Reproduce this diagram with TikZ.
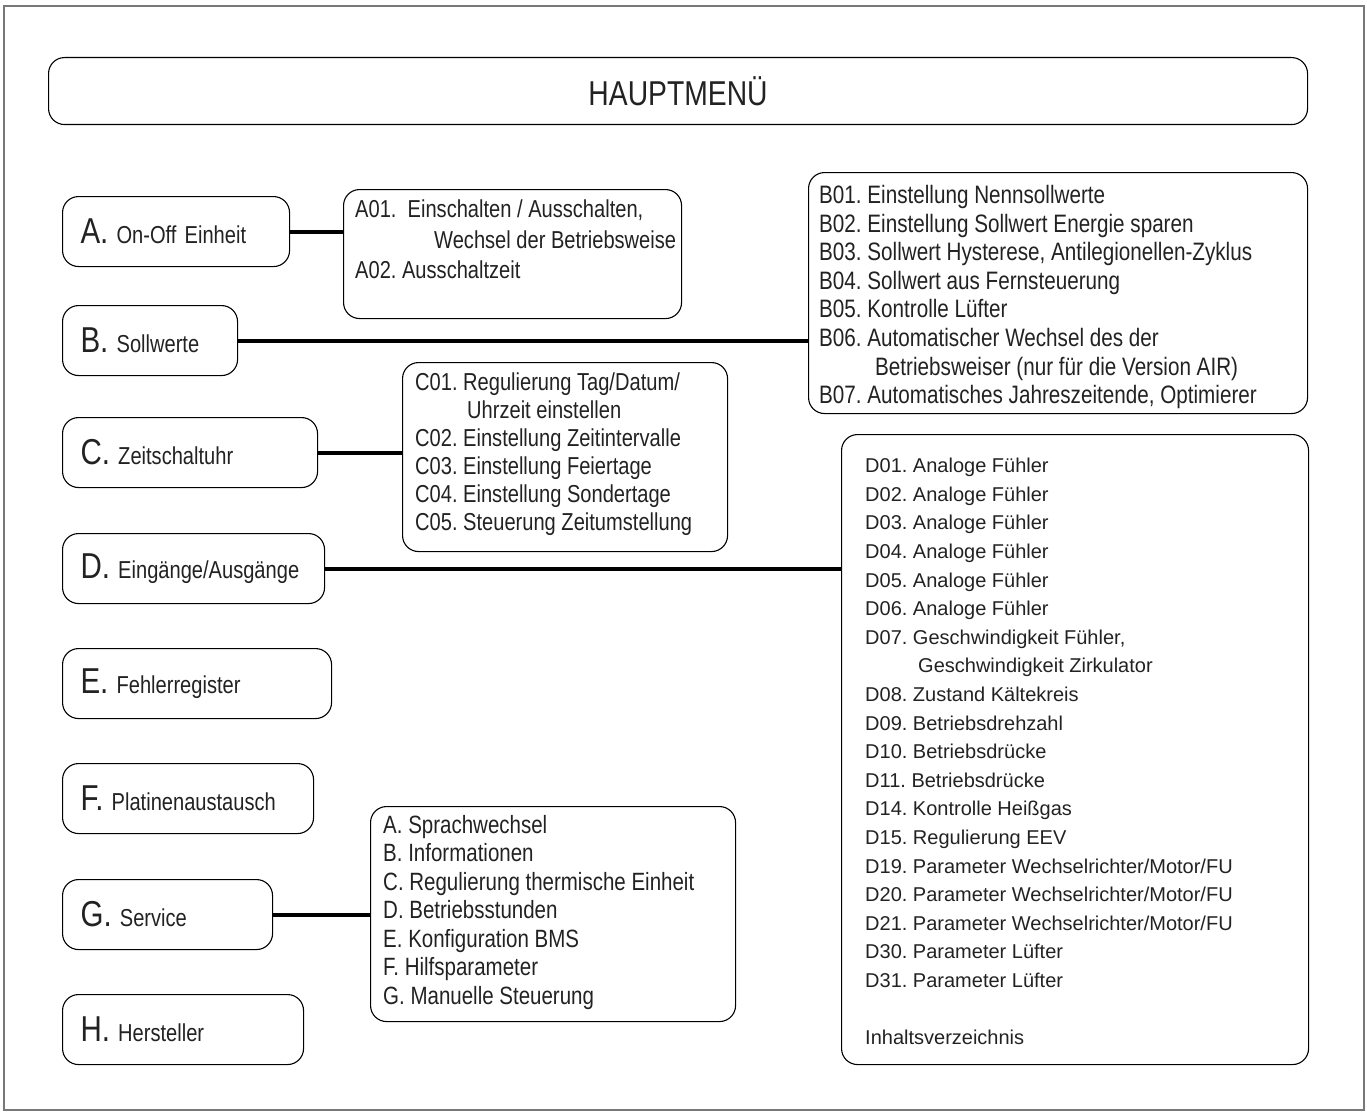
\documentclass[tikz,border=0pt]{standalone}
\usepackage{fontspec}
\setmainfont{Liberation Sans}
\newfontfamily\narrowfont{Liberation Sans}[FakeStretch=0.82]
\usepackage{xcolor}
\usetikzlibrary{positioning}
\definecolor{menuText}{RGB}{34,34,34}
\definecolor{menuFrame}{RGB}{120,120,120}
\frenchspacing
\tikzset{
    menubox/.style={draw=black, line width=1.1pt, rounded corners=16pt, inner sep=0pt, anchor=north west},
    keybox/.style={menubox, minimum height=70pt, inner xsep=18pt, align=left, text=menuText, font=\narrowfont\fontsize{24.5}{28}\selectfont},
    listtext/.style={anchor=north west, inner sep=0pt, align=left, text=menuText, font=\narrowfont\fontsize{25.2}{28.6}\selectfont},
    link/.style={line width=4pt},
}
\newcommand{\keyletter}[1]{{\fontsize{36}{36}\selectfont #1}}

\begin{document}
\begin{tikzpicture}[x=1pt,y=-1pt]
    \useasboundingbox (0,0) rectangle (1367,1113);
    \draw[menuFrame, line width=1.2pt] (4,6) rectangle (1364,1110);

    \node[menubox, minimum width=1259pt, minimum height=67pt, text=menuText, font=\narrowfont\fontsize{34.5}{34.5}\selectfont] (haupt) at (48,57) {HAUPTMENÜ};

    % main menu entries
    \node[keybox, minimum width=227pt, text width=191pt] (keyA) at (62,196) {\keyletter{A.} On-Off Einheit};
    \node[keybox, minimum width=175pt, text width=139pt] (keyB) at (62,305) {\keyletter{B.} Sollwerte};
    \node[keybox, minimum width=255pt, text width=219pt] (keyC) at (62,417) {\keyletter{C.} Zeitschaltuhr};
    \node[keybox, minimum width=262pt, text width=226pt] (keyD) at (62,533) {\keyletter{D.} Eingänge/Ausgänge};
    \node[keybox, minimum width=269pt, text width=233pt] (keyE) at (62,648) {\keyletter{E.} Fehlerregister};
    \node[keybox, minimum width=251pt, text width=215pt] (keyF) at (62,763) {\keyletter{F.} Platinenaustausch};
    \node[keybox, minimum width=210pt, text width=174pt] (keyG) at (62,879) {\keyletter{G.} Service};
    \node[keybox, minimum width=241pt, text width=205pt] (keyH) at (62,994) {\keyletter{H.} Hersteller};

    % sub menus
    \node[menubox, minimum width=338pt, minimum height=129pt] (listA) at (343,189) {};
    \node[listtext, font=\narrowfont\fontsize{24.5}{30.5}\selectfont] (textA) at ([shift={(12,11)}]listA.north west)
        {A01.\ \ Einschalten / Ausschalten,\\
         \hspace*{79pt}Wechsel der Betriebsweise\\
         A02. Ausschaltzeit};

    \node[menubox, minimum width=499pt, minimum height=241pt] (listB) at (808,172) {};
    \node[listtext] (textB) at ([shift={(11,13)}]listB.north west)
        {B01. Einstellung Nennsollwerte\\
         B02. Einstellung Sollwert Energie sparen\\
         B03. Sollwert Hysterese, Antilegionellen-Zyklus\\
         B04. Sollwert aus Fernsteuerung\\
         B05. Kontrolle Lüfter\\
         B06. Automatischer Wechsel des der\\
         \hspace*{56pt}Betriebsweiser (nur für die Version AIR)\\
         B07. Automatisches Jahreszeitende, Optimierer};

    \node[menubox, minimum width=325pt, minimum height=189pt] (listC) at (402,362) {};
    \node[listtext, font=\narrowfont\fontsize{24.5}{28}\selectfont] (textC) at ([shift={(13,11)}]listC.north west)
        {C01. Regulierung Tag/Datum/\\
         \hspace*{52pt}Uhrzeit einstellen\\
         C02. Einstellung Zeitintervalle\\
         C03. Einstellung Feiertage\\
         C04. Einstellung Sondertage\\
         C05. Steuerung Zeitumstellung};

    \node[menubox, minimum width=467pt, minimum height=630pt] (listD) at (841,434) {};
    \node[listtext, font=\fontsize{20}{28.6}\selectfont] (textD) at ([shift={(24,24)}]listD.north west)
        {D01. Analoge Fühler\\
         D02. Analoge Fühler\\
         D03. Analoge Fühler\\
         D04. Analoge Fühler\\
         D05. Analoge Fühler\\
         D06. Analoge Fühler\\
         D07. Geschwindigkeit Fühler,\\
         \hspace*{53pt}Geschwindigkeit Zirkulator\\
         D08. Zustand Kältekreis\\
         D09. Betriebsdrehzahl\\
         D10. Betriebsdrücke\\
         D11. Betriebsdrücke\\
         D14. Kontrolle Heißgas\\
         D15. Regulierung EEV\\
         D19. Parameter Wechselrichter/Motor/FU\\
         D20. Parameter Wechselrichter/Motor/FU\\
         D21. Parameter Wechselrichter/Motor/FU\\
         D30. Parameter Lüfter\\
         D31. Parameter Lüfter\\[28.6pt]
         Inhaltsverzeichnis};

    \node[menubox, minimum width=365pt, minimum height=215pt] (listG) at (370,806) {};
    \node[listtext, font=\narrowfont\fontsize{25}{28.5}\selectfont] (textG) at ([shift={(13,9)}]listG.north west)
        {A. Sprachwechsel\\
         B. Informationen\\
         C. Regulierung thermische Einheit\\
         D. Betriebsstunden\\
         E. Konfiguration BMS\\
         F. Hilfsparameter\\
         G. Manuelle Steuerung};

    % links
    \draw[link] (keyA.east) -- (keyA.east -| listA.west);
    \draw[link] (keyB.east) -- (keyB.east -| listB.west);
    \draw[link] (keyC.east) -- (keyC.east -| listC.west);
    \draw[link] (keyD.east) -- (keyD.east -| listD.west);
    \draw[link] (keyG.east) -- (keyG.east -| listG.west);
\end{tikzpicture}
\end{document}
